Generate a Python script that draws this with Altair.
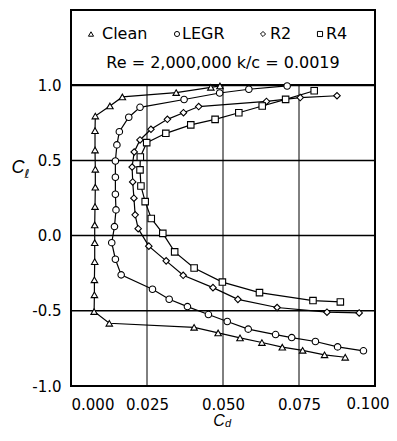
import altair as alt
import pandas as pd

series_names = ["Clean", "LEGR", "R2", "R4"]
series_shapes = ["triangle-up", "circle", "diamond", "square"]

clean_cd = [0.0490, 0.0460, 0.0346, 0.0169, 0.0128, 0.0080, 0.0079, 0.0079, 0.0080, 0.0080,
            0.0079, 0.0078, 0.0078, 0.0078, 0.0077, 0.0077, 0.0076, 0.0126, 0.0405, 0.0484,
            0.0556, 0.0628, 0.0695, 0.0762, 0.0834, 0.0902]
clean_cl = [0.995, 0.986, 0.951, 0.922, 0.862, 0.795, 0.698, 0.569, 0.441, 0.322,
            0.193, 0.071, -0.047, -0.173, -0.294, -0.394, -0.505, -0.583, -0.610, -0.647,
            -0.680, -0.711, -0.742, -0.763, -0.793, -0.809]

legr_cd = [0.0711, 0.0585, 0.0489, 0.0372, 0.0227, 0.0190, 0.0159, 0.0151, 0.0146, 0.0146,
           0.0146, 0.0148, 0.0143, 0.0134, 0.0146, 0.0165, 0.0268, 0.0323, 0.0383, 0.0452,
           0.0514, 0.0583, 0.0673, 0.0726, 0.0804, 0.0877, 0.0962]
legr_cl = [0.995, 0.973, 0.948, 0.905, 0.853, 0.787, 0.691, 0.603, 0.496, 0.388,
           0.275, 0.171, 0.060, -0.047, -0.157, -0.261, -0.357, -0.423, -0.472, -0.525,
           -0.571, -0.622, -0.658, -0.678, -0.704, -0.740, -0.766]

r2_cd = [0.0875, 0.0754, 0.0643, 0.0420, 0.0370, 0.0317, 0.0263, 0.0227, 0.0208, 0.0201,
         0.0203, 0.0207, 0.0211, 0.0221, 0.0256, 0.0313, 0.0369, 0.0467, 0.0549, 0.0678,
         0.0842, 0.0948]
r2_cl = [0.930, 0.918, 0.892, 0.858, 0.817, 0.773, 0.707, 0.636, 0.556, 0.456,
         0.357, 0.249, 0.138, 0.046, -0.070, -0.168, -0.264, -0.346, -0.424, -0.478,
         -0.509, -0.514]

r4_cd = [0.0800, 0.0706, 0.0629, 0.0552, 0.0474, 0.0394, 0.0312, 0.0249, 0.0228, 0.0227,
         0.0230, 0.0244, 0.0264, 0.0302, 0.0341, 0.0405, 0.0498, 0.0620, 0.0796, 0.0886]
r4_cl = [0.963, 0.906, 0.862, 0.817, 0.773, 0.736, 0.680, 0.618, 0.523, 0.437,
         0.330, 0.226, 0.114, 0.015, -0.108, -0.215, -0.309, -0.379, -0.432, -0.441]

x_ticks = [0.0, 0.025, 0.05, 0.075]
x_last_tick = [0.1]
y_ticks = [-1.0, -0.5, 0.0, 0.5, 1.0]
v_grid = [0.025, 0.05, 0.075]
h_grid = [-0.5, 0.0, 0.5, 1.0]

legend_title = "Re = 2,000,000  k/c = 0.0019"

rows = []
for name, cds, cls in [("Clean", clean_cd, clean_cl), ("LEGR", legr_cd, legr_cl),
                       ("R2", r2_cd, r2_cl), ("R4", r4_cd, r4_cl)]:
    for i, (a, b) in enumerate(zip(cds, cls)):
        rows.append({"series": name, "cd": a, "cl": b, "i": i})
df = pd.DataFrame(rows)
one = pd.DataFrame({"k": [0]})  # single row for annotations

FONT = "DejaVu Sans"
xs = alt.Scale(domain=[0, 0.1], nice=False, zero=False)
ys = alt.Scale(domain=[-1, 1.5], nice=False, zero=False)
x_axis = alt.Axis(values=x_ticks, format=".3f", grid=False, ticks=False, domain=False,
                  labelFont=FONT, labelFontSize=15, labelColor="black", labelPadding=11,
                  labelFontWeight="normal", title=None)
y_axis = alt.Axis(values=y_ticks, format=".1f", grid=False, ticks=False, domain=False,
                  labelFont=FONT, labelFontSize=15, labelColor="black", labelPadding=10,
                  labelFontWeight="normal",
                  labelExpr="replace(datum.label, '\u2212', '-')", title=None)

vdf = pd.DataFrame({"gx": v_grid, "y0": [-1.0] * len(v_grid), "y1": [1.0] * len(v_grid)})
vgrid = alt.Chart(vdf).mark_rule(color="black", strokeWidth=1).encode(
    x=alt.X("gx:Q", scale=xs, axis=x_axis),
    y=alt.Y("y0:Q", scale=ys, axis=y_axis),
    y2="y1:Q",
)

hdf = pd.DataFrame({"gy": h_grid, "x0": [0.0] * len(h_grid), "x1": [0.1] * len(h_grid),
                    "w": [1.5, 1.5, 1.5, 2.2]})
hgrid = alt.Chart(hdf).mark_rule(color="black").encode(
    y=alt.Y("gy:Q", scale=ys, axis=y_axis),
    x=alt.X("x0:Q", scale=xs, axis=x_axis),
    x2="x1:Q",
    strokeWidth=alt.StrokeWidth("w:Q", scale=None),
)

lines = alt.Chart(df).mark_line(color="black", strokeWidth=1.2).encode(
    x=alt.X("cd:Q", scale=xs, axis=x_axis),
    y=alt.Y("cl:Q", scale=ys, axis=y_axis),
    detail="series:N",
    order="i:Q",
)

points = alt.Chart(df).mark_point(filled=True, fill="white", stroke="black",
                                  strokeWidth=1.1, opacity=1, size=42).encode(
    x=alt.X("cd:Q", scale=xs, axis=x_axis),
    y=alt.Y("cl:Q", scale=ys, axis=y_axis),
    shape=alt.Shape("series:N", scale=alt.Scale(domain=series_names, range=series_shapes),
                    legend=None),
)

# last x tick label, nudged left so it stays inside the page
ldf = pd.DataFrame({"t": x_last_tick, "lab": ["0.100"]})
last_label = alt.Chart(ldf).mark_text(align="center", baseline="top", font=FONT,
                                      fontSize=15, fontWeight="normal", color="black",
                                      dx=-7).encode(
    x=alt.X("t:Q", scale=xs, axis=x_axis),
    y=alt.value(387),
    text="lab:N",
)

layers = [vgrid, hgrid, lines, points, last_label]

sym_x = [20, 106, 192, 249]
txt_x = [31, 111, 199, 255]
for name, shp, sx, tx in zip(series_names, series_shapes, sym_x, txt_x):
    layers.append(alt.Chart(one).mark_point(shape=shp, filled=True, fill="white", stroke="black",
                                            strokeWidth=1, opacity=1, size=26).encode(
        x=alt.value(sx), y=alt.value(24)))
    layers.append(alt.Chart(one).mark_text(text=name, align="left", baseline="middle",
                                           font=FONT, fontSize=16, fontWeight="normal",
                                           color="black").encode(
        x=alt.value(tx), y=alt.value(24)))

layers.append(alt.Chart(one).mark_text(text=legend_title, align="center", baseline="middle",
                                       font=FONT, fontSize=16, fontWeight="normal",
                                       color="black").encode(
    x=alt.value(152), y=alt.value(53)))

# axis titles: C with subscripts
layers.append(alt.Chart(one).mark_text(text="C", align="center", baseline="middle",
                                       font="Liberation Sans", fontStyle="italic",
                                       fontWeight="normal", fontSize=18, color="black").encode(
    x=alt.value(-53), y=alt.value(158)))
layers.append(alt.Chart(one).mark_text(text="\u2113", align="center", baseline="middle",
                                       font="DejaVu Sans", fontStyle="italic",
                                       fontWeight="normal", fontSize=12, color="black").encode(
    x=alt.value(-44), y=alt.value(164)))
layers.append(alt.Chart(one).mark_text(text="C", align="center", baseline="alphabetic",
                                       font="Liberation Sans", fontStyle="italic",
                                       fontWeight="normal", fontSize=16, color="black").encode(
    x=alt.value(148), y=alt.value(416)))
layers.append(alt.Chart(one).mark_text(text="d", align="center", baseline="alphabetic",
                                       font="Liberation Sans", fontStyle="italic",
                                       fontWeight="normal", fontSize=11, color="black").encode(
    x=alt.value(157), y=alt.value(417)))

chart = alt.layer(*layers).properties(
    width=304, height=376, autosize="none",
    padding={"left": 63, "top": 2, "right": 14, "bottom": 42},
).configure_view(stroke="black", strokeWidth=2)

chart.save("out.html", embed_options={"renderer": "svg", "actions": False})
